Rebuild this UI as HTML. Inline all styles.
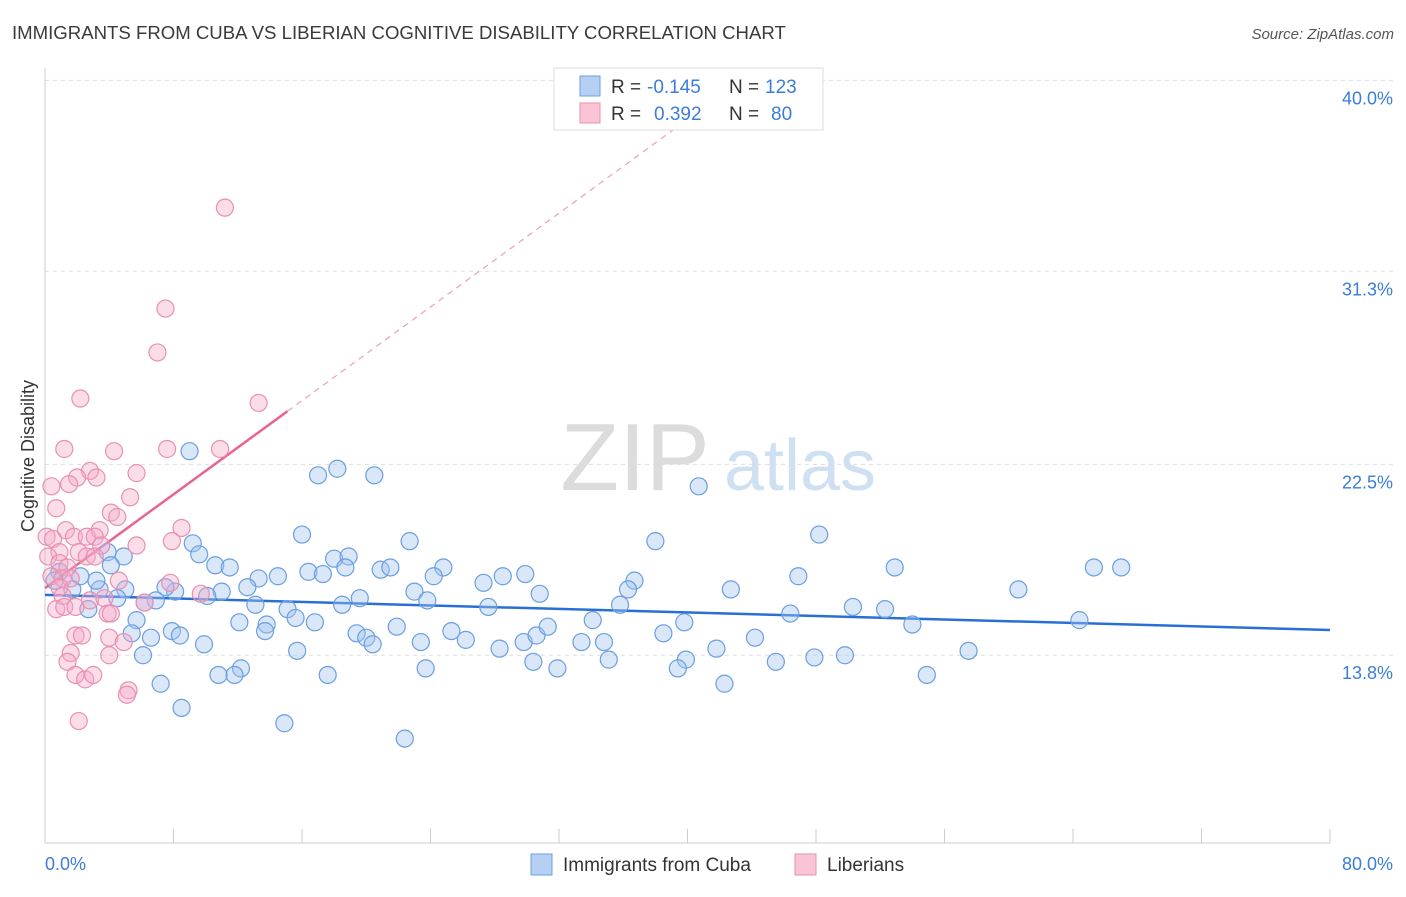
<!DOCTYPE html>
<html><head><meta charset="utf-8"><style>
body{margin:0;background:#fff;font-family:"Liberation Sans",sans-serif}
svg text{font-family:"Liberation Sans",sans-serif}
</style></head><body>
<svg id="chart" width="1406" height="892" xmlns="http://www.w3.org/2000/svg">
<text x="12" y="39" font-size="18.6" fill="#3a3a3a">IMMIGRANTS FROM CUBA VS LIBERIAN COGNITIVE DISABILITY CORRELATION CHART</text>
<text x="1394" y="39" font-size="15" fill="#555" text-anchor="end" font-style="italic">Source: ZipAtlas.com</text>
<g>
<text x="635" y="490" font-size="96" fill="#dcdcdc" text-anchor="middle" font-family="Liberation Serif">ZIP</text>
<text x="800" y="490" font-size="72" fill="#cfe0f3" text-anchor="middle">atlas</text>
</g>
<g id="grid"></g><g id="axes"></g><g id="trend"></g><g id="pts"></g>
<text transform="translate(34,456) rotate(-90)" font-size="18" fill="#333" text-anchor="middle">Cognitive Disability</text>
<text x="45" y="870" font-size="18" fill="#3b7dd8">0.0%</text>
<text x="1393" y="870" font-size="18" fill="#3b7dd8" text-anchor="end">80.0%</text>
<g>
<rect x="554" y="68" width="269" height="62" fill="#fff" stroke="#ddd"/>
<rect x="580" y="76" width="20" height="20" fill="#b5d0f3" stroke="#6a9fe0"/>
<rect x="580" y="103" width="20" height="20" fill="#f9c4d5" stroke="#e890b0"/>
<text x="611" y="93" font-size="19" fill="#333">R =</text>
<text x="647" y="93" font-size="19" fill="#3b7dd8">-0.145</text>
<text x="729" y="93" font-size="19" fill="#333">N =</text>
<text x="765" y="93" font-size="19" fill="#3b7dd8">123</text>
<text x="611" y="120" font-size="19" fill="#333">R =</text>
<text x="654" y="120" font-size="19" fill="#3b7dd8">0.392</text>
<text x="729" y="120" font-size="19" fill="#333">N =</text>
<text x="771" y="120" font-size="19" fill="#3b7dd8">80</text>
</g>
<g>
<rect x="531" y="854" width="21" height="21" fill="#b5d0f3" stroke="#6a9fe0"/>
<text x="563" y="871" font-size="19" fill="#333">Immigrants from Cuba</text>
<rect x="795" y="854" width="21" height="21" fill="#f9c4d5" stroke="#e890b0"/>
<text x="827" y="871" font-size="19" fill="#333">Liberians</text>
</g>
</svg>
<script>
const yTicks=[13.8,22.5,31.3,40.0];
const yTickLabels=["13.8%","22.5%","31.3%","40.0%"];
const xTicks=[0,8,16,24,32,40,48,56,64,72,80];
const blueX=[9.0,17.0,18.2,20.5,40.7,16.0,22.7,38.0,48.2,9.2,9.6,3.9,4.9,4.1,10.6,11.5,18.0,18.9,18.7,20.9,21.5,24.8,16.4,17.3,14.5,13.3,24.2,28.5,29.9,27.3,36.7,36.3,30.8,42.7,46.9,52.9,65.3,67.0,60.6,23.0,23.8,19.6,18.5,27.6,35.8,50.3,52.3,46.4,64.4,54.0,39.8,34.1,12.6,11.0,10.1,8.1,7.5,6.9,6.2,5.0,4.5,3.4,3.2,2.2,1.7,0.9,0.6,2.7,13.1,15.1,15.6,16.8,12.1,13.8,13.7,5.7,7.9,5.4,6.6,8.4,19.4,20.0,20.4,21.9,23.4,25.3,26.2,29.8,30.6,31.3,33.4,34.8,38.5,44.2,28.3,15.7,9.9,6.1,41.8,57.5,49.8,47.9,45.5,39.9,39.4,35.1,31.9,30.4,23.7,12.2,11.8,10.8,17.6,7.2,42.3,54.9,8.5,14.9,22.4];
const blueY=[23.1,22.0,22.3,22.0,21.5,19.3,19.0,19.0,19.3,18.9,18.4,18.5,18.3,17.9,17.9,17.8,18.2,18.3,17.8,17.7,17.8,17.8,17.6,17.5,17.4,17.3,17.4,17.4,17.5,17.1,17.2,16.8,16.6,16.8,17.4,17.8,17.8,17.8,16.8,16.7,16.3,16.4,16.1,16.0,16.1,16.0,15.9,15.7,15.4,15.2,15.3,15.4,16.9,16.7,16.5,16.7,16.9,16.3,16.2,16.8,16.4,16.8,17.2,17.4,16.8,17.6,17.2,15.9,16.1,15.9,15.5,15.3,15.3,15.2,14.9,15.4,14.9,14.8,14.6,14.7,14.8,14.6,14.3,15.1,14.4,14.9,14.5,14.4,14.7,15.1,14.4,14.4,14.8,14.6,14.1,14.0,14.3,13.8,14.1,14.0,13.8,13.7,13.5,13.6,13.2,13.6,13.2,13.5,13.2,13.2,12.9,12.9,12.9,12.5,12.5,12.9,11.4,10.7,10.0];
const pinkX=[11.2,7.5,7.0,2.2,13.3,1.2,7.6,10.9,4.3,2.8,5.7,2.0,3.2,1.5,0.4,5.3,0.7,4.1,4.5,1.3,3.4,8.5,1.8,2.6,3.1,0.1,0.5,7.9,5.7,0.9,2.1,3.5,2.6,3.1,0.2,0.9,1.4,0.4,1.1,1.6,4.6,7.8,0.9,1.1,2.8,3.7,6.2,9.7,0.7,1.2,1.9,3.9,4.1,1.9,2.3,4.0,4.9,1.6,4.0,1.4,1.9,2.5,3.0,5.2,5.1,2.1];
const pinkY=[34.2,29.6,27.6,25.5,25.3,23.2,23.2,23.2,23.1,22.2,22.1,21.9,21.9,21.6,21.5,21.0,20.5,20.3,20.1,19.5,19.5,19.6,19.2,19.2,19.2,19.2,19.1,19.0,18.8,18.5,18.5,18.8,18.3,18.3,18.3,18.0,17.8,17.4,17.3,17.3,17.2,17.1,16.9,16.5,16.3,16.4,16.2,16.6,15.9,16.0,16.0,15.7,15.7,14.7,14.7,14.6,14.4,13.9,13.8,13.5,12.9,12.7,12.9,12.2,12.0,10.8];
const blueTrend=[16.55,14.95]; // y at x=0 and x=80
const pinkTrend=[16.86,0.534]; // intercept, slope
const pinkSolidEnd=15.1, pinkDashEnd=39.5;

const X0=45,X1=1330,XMAX=80;
const sx=v=>X0+v*(X1-X0)/XMAX;
const sy=v=>958-v*21.94;
const NS="http://www.w3.org/2000/svg";
function mk(parent,tag,attrs){const e=document.createElementNS(NS,tag);for(const k in attrs)e.setAttribute(k,attrs[k]);document.getElementById(parent).appendChild(e);return e;}
yTicks.forEach((t,i)=>{
  const g=mk('grid','line',{x1:45,x2:1395,y1:sy(t),y2:sy(t),stroke:'#ddd','stroke-dasharray':'4,4'});
  
  
  const l=mk('grid','text',{x:1393,y:sy(t)+24,'font-size':18,fill:'#3b7dd8','text-anchor':'end'});
  l.textContent=yTickLabels[i];
  
  
});
const ax=mk('axes','line',{x1:45,x2:45,y1:68,y2:843,stroke:'#ccc'});


const bx=mk('axes','line',{x1:45,x2:1330,y1:843,y2:843,stroke:'#ccc'});


xTicks.forEach(t=>{
  const e=mk('axes','line',{x1:sx(t),x2:sx(t),y1:829,y2:843,stroke:'#ccc'});
  
  
});
blueX.forEach((v,i)=>{
  const c=mk('pts','circle',{cx:sx(v),cy:sy(blueY[i]),r:8.5,fill:'rgba(160,195,240,0.4)',stroke:'#6a9fe0','stroke-width':1.2});
  
  
});
pinkX.forEach((v,i)=>{
  const c=mk('pts','circle',{cx:sx(v),cy:sy(pinkY[i]),r:8.5,fill:'rgba(245,170,200,0.4)',stroke:'#e890b0','stroke-width':1.2});
  
  
});
const bt=mk('trend','line',{x1:sx(0),y1:sy(blueTrend[0]),x2:sx(80),y2:sy(blueTrend[1]),stroke:'#2a6fd6','stroke-width':2.5});


const pt=mk('trend','line',{x1:sx(0),y1:sy(pinkTrend[0]),x2:sx(pinkSolidEnd),y2:sy(pinkTrend[0]+pinkTrend[1]*pinkSolidEnd),stroke:'#e8658f','stroke-width':2.5});


const pd=mk('trend','line',{x1:sx(pinkSolidEnd),y1:sy(pinkTrend[0]+pinkTrend[1]*pinkSolidEnd),x2:sx(pinkDashEnd),y2:sy(pinkTrend[0]+pinkTrend[1]*pinkDashEnd),stroke:'#eaa0b8','stroke-width':1.2,'stroke-dasharray':'6,5'});


</script>
</body></html>
